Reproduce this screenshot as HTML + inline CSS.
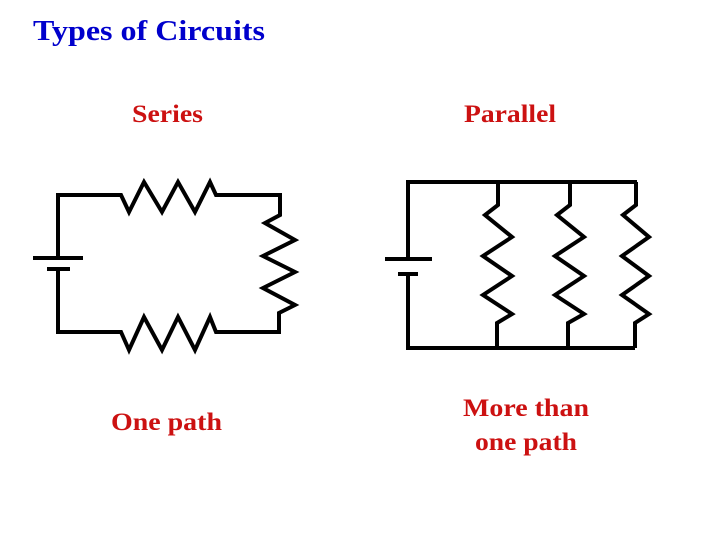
<!DOCTYPE html>
<html><head><meta charset="utf-8"><style>
html,body{margin:0;padding:0;background:#fff;}
body{width:720px;height:540px;position:relative;overflow:hidden;}
</style></head><body>
<svg width="720" height="540" xmlns="http://www.w3.org/2000/svg" style="position:absolute;left:0;top:0">
<g font-family="Liberation Serif, serif" font-weight="bold">
<text x="33" y="40" font-size="28" fill="#0000cc" textLength="232" lengthAdjust="spacingAndGlyphs">Types of Circuits</text>
<g fill="#cc1111" font-size="25">
<text x="132" y="122" textLength="71" lengthAdjust="spacingAndGlyphs">Series</text>
<text x="464" y="122" textLength="92" lengthAdjust="spacingAndGlyphs">Parallel</text>
<text x="111" y="430" textLength="111" lengthAdjust="spacingAndGlyphs">One path</text>
<text x="463" y="416" textLength="126" lengthAdjust="spacingAndGlyphs">More than</text>
<text x="475" y="450" textLength="102" lengthAdjust="spacingAndGlyphs">one path</text>
</g>
</g>
<g fill="none" stroke="#000" stroke-width="4" stroke-linejoin="miter">
<polyline points="58,258 58,195 121,195 129,212 144,182 162,212 178,182 195,212 210,182 216,195 280,195 280,215 265,223 295,240 263,256 295,272 263,288 295,305 279,313 279,332 216,332 210,317 195,350 178,317 162,350 144,317 129,350 121,332 58,332 58,269"/>
<line x1="33" y1="258" x2="83" y2="258"/>
<line x1="47" y1="269" x2="70" y2="269"/>
<polyline points="408,259 408,182 637,182"/>
<polyline points="408,274 408,348 635,348"/>
<line x1="385" y1="259" x2="432" y2="259"/>
<line x1="398" y1="274" x2="418" y2="274"/>
<polyline points="498,182 498,205 485,215 512,237 483,256 512,276 483,295 512,314 497,323 497,348"/>
<polyline points="570,182 570,205 557,215 584,237 555,256 584,276 555,295 584,314 568,323 568,348"/>
<polyline points="636,182 636,205 623,215 649,237 622,256 649,276 622,295 649,314 635,323 635,348"/>
</g>
</svg>
</body></html>
